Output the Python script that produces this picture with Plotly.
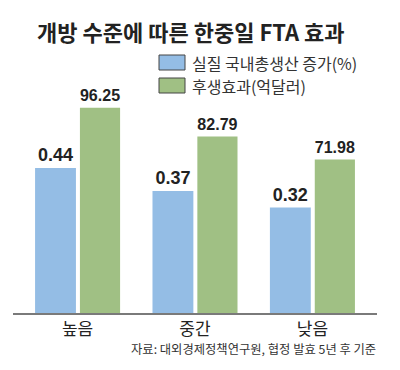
import plotly.graph_objects as go

categories = ["높음", "중간", "낮음"]
gdp_growth = [0.44, 0.37, 0.32]
welfare = [96.25, 82.79, 71.98]
series_names = ["실질 국내총생산 증가(%)", "후생효과(억달러)"]
title_text = "개방 수준에 따른 한중일 FTA 효과"
source_text = "자료: 대외경제정책연구원, 협정 발효 5년 후 기준"

W, H = 400, 370
ML, MR, MT, MB = 13, 23, 40, 57
PW, PH = W - ML - MR, H - MT - MB

def px(x):
    return (x - ML) / PW

def py(y):
    return (H - MB - y) / PH

BLUE = "#94bde5"
GREEN = "#a0c084"
KFONT = "Noto Sans CJK KR"
NFONT = "Liberation Sans"

x_idx = list(range(len(categories)))

fig = go.Figure()
fig.add_trace(go.Bar(
    x=x_idx, y=gdp_growth, name=series_names[0], yaxis="y",
    width=0.348, offset=-0.362,
    marker=dict(color=BLUE, line=dict(width=0)),
    texttemplate="<b>%{y:.2f}</b>", textposition="outside",
    textfont=dict(family=NFONT, size=18, color="#222"),
    cliponaxis=False, showlegend=False,
))
fig.add_trace(go.Bar(
    x=x_idx, y=welfare, name=series_names[1], yaxis="y2",
    width=0.342, offset=0.02,
    marker=dict(color=GREEN, line=dict(width=0)),
    texttemplate="<b>%{y:.2f}</b>", textposition="outside",
    textfont=dict(family=NFONT, size=18, color="#222"),
    cliponaxis=False, showlegend=False,
))

fig.update_layout(
    width=W, height=H,
    margin=dict(l=ML, r=MR, t=MT, b=MB),
    paper_bgcolor="white", plot_bgcolor="white",
    showlegend=False,
    xaxis=dict(
        range=[-0.55, 2.55], tickmode="array", tickvals=x_idx, ticktext=categories,
        showline=True, linecolor="#7a7a7a", linewidth=2, ticks="",
        showgrid=False, zeroline=False,
        tickfont=dict(family=KFONT, size=17, color="#222"),
    ),
    yaxis=dict(range=[0, PH / 329.5], visible=False, showgrid=False, zeroline=False),
    yaxis2=dict(range=[0, PH / 2.133], visible=False, showgrid=False, zeroline=False,
                overlaying="y", side="right"),
)

# title
fig.add_annotation(
    text="<b>" + title_text + "</b>", xref="paper", yref="paper",
    x=px(191), y=py(31), xanchor="center", yanchor="middle", showarrow=False,
    font=dict(family=KFONT, size=22, color="#222"),
)

# custom legend
colors = [BLUE, GREEN]
tops = [55, 78]
for name, c, t in zip(series_names, colors, tops):
    fig.add_shape(type="rect", xref="paper", yref="paper",
                  x0=px(159), x1=px(185), y0=py(t), y1=py(t + 15),
                  fillcolor=c, line=dict(color="#444", width=1))
    fig.add_annotation(text=name, xref="paper", yref="paper",
                       x=px(190), y=py(t + 7.5), xanchor="left", yanchor="middle",
                       showarrow=False, font=dict(family=KFONT, size=16, color="#333"))

# source
fig.add_annotation(text=source_text, xref="paper", yref="paper",
                   x=px(378), y=py(349), xanchor="right", yanchor="middle",
                   showarrow=False, font=dict(family=KFONT, size=12.3, color="#333"))

fig.write_html("out.html", post_script="document.body.style.margin='0';",
               config={"displayModeBar": False})
